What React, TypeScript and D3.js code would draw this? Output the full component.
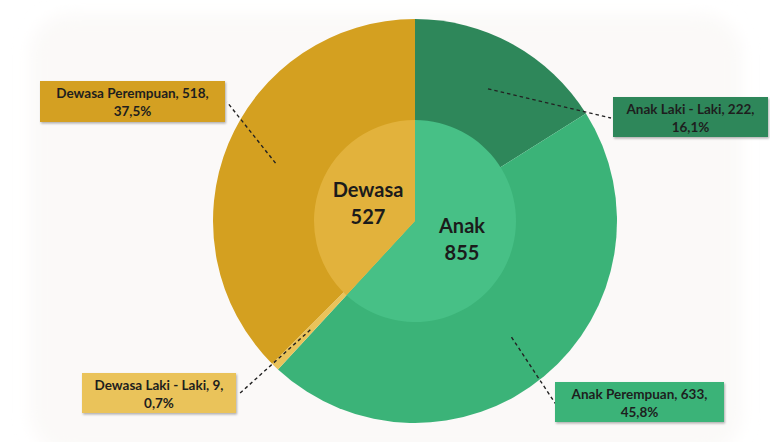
import { useEffect, useRef } from 'react';
import * as d3 from 'd3';

const innerNames = ['Anak', 'Dewasa'];
const innerValues = [855, 527];
const outerNames = ['Anak Laki - Laki', 'Anak Perempuan', 'Dewasa Laki - Laki', 'Dewasa Perempuan'];
const outerValues = [222, 633, 9, 518];
const outerPercents = ['16,1%', '45,8%', '0,7%', '37,5%'];

const innerColors = ['#47C086', '#E2B23C'];
const outerColors = ['#2E875A', '#3BB378', '#EAC35A', '#D4A020'];

// label boxes and the point where each leader line ends
const boxes = [
  { x: 613, y: 97, w: 155, h: 40, ex: 611, ey: 118 },
  { x: 555, y: 382, w: 169, h: 40, ex: 555, ey: 403 },
  { x: 82, y: 373, w: 154, h: 40, ex: 238, ey: 395 },
  { x: 40, y: 81, w: 185, h: 41, ex: 227, ey: 102 }
];

export default function App() {
  const svgRef = useRef<SVGSVGElement | null>(null);

  useEffect(() => {
    if (!svgRef.current) return;
    const width = 770;
    const height = 442;
    const cx = 415;
    const cy = 221;
    const outerRadius = 202;
    const innerRadius = 101;

    const svg = d3.select(svgRef.current);
    svg.selectAll('*').remove();
    svg.attr('width', width).attr('height', height);

    const defs = svg.append('defs');
    const shadow = defs.append('filter').attr('id', 'boxShadow')
      .attr('x', '-10%').attr('y', '-20%').attr('width', '130%').attr('height', '150%');
    shadow.append('feDropShadow')
      .attr('dx', 1).attr('dy', 1.5).attr('stdDeviation', 1.2)
      .attr('flood-color', '#000').attr('flood-opacity', 0.3);
    const blur = defs.append('filter').attr('id', 'bgBlur')
      .attr('x', '-10%').attr('y', '-10%').attr('width', '120%').attr('height', '120%');
    blur.append('feGaussianBlur').attr('stdDeviation', 8);

    // faint watermark background
    svg.append('rect')
      .attr('x', 30).attr('y', 14).attr('width', 712).attr('height', 440)
      .attr('rx', 40)
      .attr('fill', '#FBF9F8')
      .attr('filter', 'url(#bgBlur)');

    const g = svg.append('g').attr('transform', `translate(${cx}, ${cy})`);

    const pie = d3.pie<number>().value(d => d).sort(null);

    const outerArc = d3.arc<d3.PieArcDatum<number>>()
      .innerRadius(0)
      .outerRadius(outerRadius);

    const innerArc = d3.arc<d3.PieArcDatum<number>>()
      .innerRadius(0)
      .outerRadius(innerRadius);

    const outerData = pie(outerValues);
    const innerData = pie(innerValues);

    g.selectAll('.outer')
      .data(outerData)
      .enter()
      .append('path')
      .attr('class', 'outer')
      .attr('d', outerArc)
      .attr('fill', (_, i) => outerColors[i]);

    g.selectAll('.inner')
      .data(innerData)
      .enter()
      .append('path')
      .attr('class', 'inner')
      .attr('d', innerArc)
      .attr('fill', (_, i) => innerColors[i]);

    // inner labels
    const innerOffsets = [[47, 12], [-47, -24]];
    innerData.forEach((d, i) => {
      const t = g.append('text')
        .attr('text-anchor', 'middle')
        .attr('font-family', 'Lato, "Open Sans", sans-serif')
        .attr('font-size', '20px')
        .attr('font-weight', 700)
        .attr('fill', '#1b1b1b')
        .attr('transform', `translate(${innerOffsets[i][0]}, ${innerOffsets[i][1]})`);
      t.append('tspan').attr('x', 0).attr('dy', 0).text(innerNames[i]);
      t.append('tspan').attr('x', 0).attr('dy', 27).text(String(d.data));
    });

    // leader lines
    outerData.forEach((d, i) => {
      const mid = (d.startAngle + d.endAngle) / 2;
      const r = 151;
      const sx = r * Math.sin(mid);
      const sy = -r * Math.cos(mid);
      const b = boxes[i];
      const pts: [number, number][] = [[sx, sy], [b.ex - cx, b.ey - cy]];
      if (i === 1) pts.push([b.ex - cx + 4, b.ey - cy]);
      g.append('path')
        .attr('d', d3.line()(pts))
        .attr('fill', 'none')
        .attr('stroke', '#222')
        .attr('stroke-width', 1.4)
        .attr('stroke-dasharray', '3.5,3');
    });

    // label boxes
    outerData.forEach((d, i) => {
      const b = boxes[i];
      const lg = svg.append('g');
      lg.append('rect')
        .attr('x', b.x).attr('y', b.y).attr('width', b.w).attr('height', b.h)
        .attr('fill', outerColors[i])
        .attr('filter', 'url(#boxShadow)');
      const t = lg.append('text')
        .attr('text-anchor', 'middle')
        .attr('font-family', 'Lato, "Open Sans", sans-serif')
        .attr('font-size', '13.5px')
        .attr('font-weight', 700)
        .attr('fill', '#1e1e1e');
      t.append('tspan').attr('x', b.x + b.w / 2).attr('y', b.y + 17)
        .text(`${outerNames[i]}, ${d.data},`);
      t.append('tspan').attr('x', b.x + b.w / 2).attr('y', b.y + 35)
        .text(outerPercents[i]);
    });
  }, []);

  return (
    <svg ref={svgRef} style={{ position: 'absolute', left: 0, top: 0, background: '#fff' }} />
  );
}
